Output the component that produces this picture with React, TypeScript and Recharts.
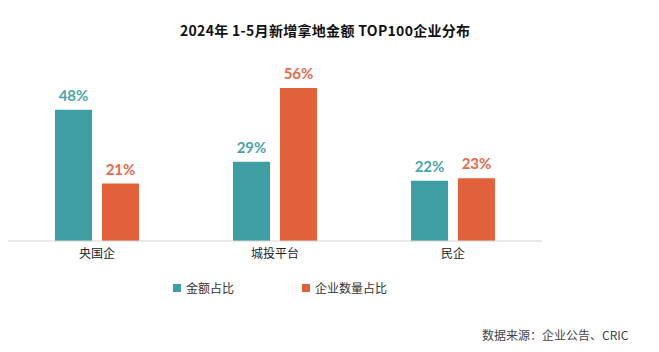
import React from 'react';
import { BarChart, Bar, XAxis, YAxis, LabelList } from 'recharts';

const categories = ['央国企', '城投平台', '民企'];
const amountShare = [48, 29, 22];
const countShare = [21, 56, 23];
const seriesNames = ['金额占比', '企业数量占比'];
const title = '2024年 1-5月新增拿地金额 TOP100企业分布';
const source = '数据来源：企业公告、CRIC';

const TEAL = '#3e9ea3';
const ORANGE = '#e2603a';

const data = categories.map((name, i) => ({
  name,
  amount: amountShare[i],
  count: countShare[i],
}));

const cjk = '"Noto Sans CJK SC", "Noto Sans", sans-serif';
const labelFont = 'Lato, "Open Sans", sans-serif';

export default function App() {
  return (
    <div style={{ position: 'relative', width: 659, height: 352, background: '#fff', fontFamily: cjk }}>
      <style>{`body{margin:0}`}</style>
      <div
        style={{
          position: 'absolute',
          left: 180,
          top: 20,
          fontSize: 14,
          fontWeight: 700,
          letterSpacing: 0.3,
          color: '#111',
          whiteSpace: 'nowrap',
          lineHeight: '20px',
        }}
      >
        {title}
      </div>
      <BarChart
        width={659}
        height={352}
        data={data}
        margin={{ top: 77, right: 117, bottom: 81, left: 8 }}
        barSize={37}
        barGap={10}
      >
        <XAxis
          dataKey="name"
          tickLine={false}
          axisLine={{ stroke: '#d4d4d4', strokeWidth: 1 }}
          tick={{ fill: '#222', fontSize: 12, fontFamily: cjk }}
        />
        <YAxis hide domain={[0, 60]} />
        <Bar dataKey="amount" fill={TEAL} isAnimationActive={false}>
          <LabelList
            dataKey="amount"
            position="top"
            offset={9}
            formatter={(v: any) => `${v}%`}
            style={{ fill: '#4aa5aa', fontSize: 15, fontWeight: 700, fontFamily: labelFont }}
          />
        </Bar>
        <Bar dataKey="count" fill={ORANGE} isAnimationActive={false}>
          <LabelList
            dataKey="count"
            position="top"
            offset={9}
            formatter={(v: any) => `${v}%`}
            style={{ fill: '#e6694a', fontSize: 15, fontWeight: 700, fontFamily: labelFont }}
          />
        </Bar>
      </BarChart>
      {[TEAL, ORANGE].map((c, i) => (
        <div
          key={i}
          style={{
            position: 'absolute',
            left: i === 0 ? 173 : 302,
            top: 279,
            display: 'flex',
            alignItems: 'center',
            fontSize: 12,
            color: '#333',
            whiteSpace: 'nowrap',
          }}
        >
          <span style={{ display: 'inline-block', width: 8, height: 8, background: c, marginRight: 5 }} />
          {seriesNames[i]}
        </div>
      ))}
      <div
        style={{
          position: 'absolute',
          left: 482,
          top: 326,
          fontSize: 12,
          color: '#444',
          whiteSpace: 'nowrap',
        }}
      >
        {source}
      </div>
    </div>
  );
}
